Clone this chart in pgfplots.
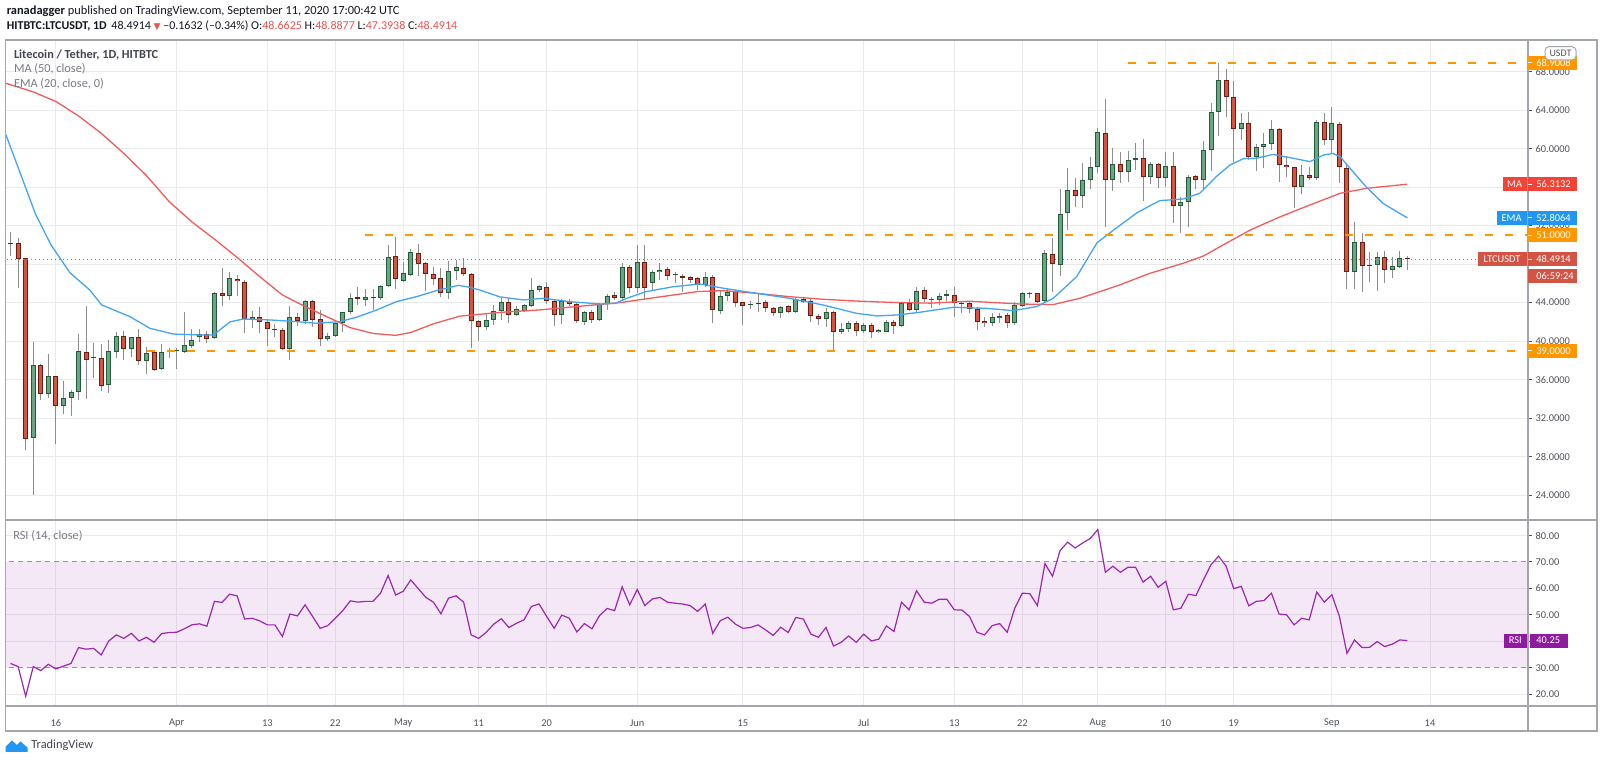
\documentclass[border=0pt]{standalone}
\usepackage{pgfplots}
\pgfplotsset{compat=1.18}
\usepackage{pgfplotstable}
\usepackage{fontspec}
\setmainfont{Carlito}
\newfontfamily\djv{DejaVu Sans}

\definecolor{gridc}{HTML}{E8EAED}
\definecolor{labc}{HTML}{50535B}
\definecolor{framec}{HTML}{A3A6AD}
\definecolor{gfill}{HTML}{6BA583}
\definecolor{gedge}{HTML}{225B38}
\definecolor{rfill}{HTML}{D6533F}
\definecolor{redge}{HTML}{6E1C12}
\definecolor{wickc}{HTML}{8C8C8C}
\definecolor{maC}{HTML}{F25C5A}
\definecolor{emaC}{HTML}{42A5F5}
\definecolor{orC}{HTML}{FF9800}
\definecolor{maBox}{HTML}{F44336}
\definecolor{emaBox}{HTML}{2196F3}
\definecolor{ltcBox}{HTML}{D35445}
\definecolor{rsiC}{HTML}{9C27B0}
\definecolor{rsiBox}{HTML}{8E1A9E}
\definecolor{dashR}{HTML}{A08CAA}
\definecolor{dotC}{HTML}{EF5350}
\definecolor{hdr}{HTML}{131722}
\definecolor{hdrred}{HTML}{EF5350}
\definecolor{legdark}{HTML}{434651}
\definecolor{leggray}{HTML}{787B86}
\definecolor{tvblue}{HTML}{2196F3}

\newcommand{\axf}{\fontsize{5.2}{6}\selectfont}

\pgfplotstableread{
d o h l c
0 50.2 51.3 48.8 50.1
1 50.23 50.68 45.49 48.5
2 48.6 48.6 28.7 29.8
3 29.9 39.95 24.0 37.49
4 37.5 37.6 33.85 34.48
5 34.48 38.67 34.06 36.38
6 36.38 36.4 29.28 33.3
7 33.3 35.83 32.4 34.06
8 34.13 34.96 32.26 34.72
9 34.72 40.78 33.92 38.98
10 38.9 43.65 34.0 38.04
11 38.2 39.84 36.21 38.4
12 38.3 39.67 34.86 35.38
13 35.45 40.12 34.58 38.98
14 38.87 40.92 38.2 40.57
15 40.57 41.06 38.04 39.15
16 39.15 40.47 38.4 40.4
17 40.47 41.26 37.52 37.9
18 37.94 39.43 36.55 38.8
19 38.9 39.08 36.94 37.0
20 37.1 39.67 37.04 38.87
21 38.98 39.25 38.3 38.88
22 38.98 39.25 37.1 39.08
23 38.85 43.07 38.77 39.56
24 39.5 41.26 39.3 40.1
25 40.47 41.26 39.88 40.75
26 40.75 41.06 39.85 40.26
27 40.3 45.14 40.23 45.04
28 45.04 47.64 43.65 44.73
29 44.73 47.15 44.24 46.53
30 46.46 46.87 44.7 46.2
31 46.18 46.35 40.81 42.27
32 42.27 43.13 41.4 42.5
33 42.5 43.5 40.8 41.96
34 41.96 42.2 39.5 41.23
35 41.3 41.8 40.4 41.2
36 41.15 41.4 39.07 39.14
37 39.14 43.7 38.0 42.5
38 42.5 42.9 41.58 42.1
39 42.1 44.27 41.75 44.2
40 44.2 44.27 41.45 42.2
41 42.26 43.24 39.5 40.18
42 40.18 40.8 40.0 40.56
43 40.56 41.92 40.4 41.85
44 41.85 43.07 40.9 43.0
45 43.0 44.97 42.82 44.45
46 44.55 45.6 43.8 44.38
47 44.27 45.4 43.7 44.55
48 44.55 45.4 43.2 44.45
49 44.45 45.8 44.27 45.7
50 45.77 50.0 45.66 48.7
51 48.85 50.8 45.45 46.42
52 46.25 48.19 46.1 47.08
53 46.87 49.58 46.77 49.23
54 49.13 50.1 46.77 48.02
55 48.09 48.19 45.18 46.98
56 46.98 47.67 45.84 46.5
57 46.53 47.57 44.56 44.97
58 44.97 48.36 44.35 47.32
59 47.32 48.43 46.36 47.74
60 47.64 48.6 46.8 46.98
61 46.95 47.05 39.3 42.1
62 42.1 42.2 40.0 41.44
63 41.44 42.9 41.16 42.2
64 42.2 43.76 41.68 43.17
65 43.17 44.52 42.2 44.03
66 44.1 44.45 41.86 42.72
67 42.72 43.69 42.62 43.31
68 43.17 43.86 43.07 43.72
69 43.69 46.53 43.59 45.32
70 45.32 45.84 45.15 45.73
71 45.66 46.11 43.86 44.21
72 44.21 44.28 41.57 42.72
73 42.72 44.35 41.75 44.21
74 44.21 44.35 43.69 43.83
75 43.83 43.93 41.92 42.13
76 42.03 43.17 41.68 43.0
77 43.0 43.24 41.86 42.2
78 42.2 43.93 42.13 43.86
79 43.86 44.9 43.24 44.7
80 44.8 45.15 44.28 44.45
81 44.45 48.09 44.28 47.74
82 47.74 47.91 44.97 45.56
83 45.56 50.0 44.97 48.19
84 48.19 50.0 44.38 45.56
85 46.0 47.4 45.32 47.15
86 47.15 48.09 46.36 47.4
87 47.47 47.67 46.36 46.77
88 46.85 47.22 46.0 46.95
89 46.8 46.98 45.15 46.6
90 46.63 46.77 46.0 46.36
91 46.53 46.7 45.32 45.84
92 45.84 47.15 45.6 46.63
93 46.63 46.87 41.92 43.24
94 43.17 45.32 42.82 44.7
95 44.7 45.4 44.21 45.15
96 45.2 45.32 43.52 44.0
97 44.03 44.1 41.68 43.69
98 43.8 44.17 43.34 43.9
99 43.95 45.0 43.0 43.85
100 44.1 44.28 43.0 43.4
101 43.4 43.59 42.62 42.9
102 42.9 43.69 42.38 43.5
103 43.69 43.76 42.9 43.0
104 43.0 44.45 42.9 44.38
105 44.38 44.6 43.97 44.1
106 44.2 44.38 42.0 42.6
107 42.6 42.8 41.68 42.27
108 42.27 43.45 41.5 43.03
109 43.03 43.17 39.09 41.0
110 40.9 41.93 40.7 41.23
111 41.23 42.13 41.0 41.86
112 41.93 42.07 40.57 41.03
113 41.03 41.86 40.82 41.72
114 41.7 41.86 40.3 40.9
115 40.9 41.27 40.8 41.16
116 41.0 42.2 40.9 42.0
117 42.0 42.2 40.7 41.55
118 41.55 44.03 41.44 43.97
119 43.93 44.38 43.17 43.24
120 43.24 45.6 42.9 45.25
121 45.32 45.6 44.03 44.4
122 44.32 44.62 43.41 44.42
123 44.28 44.97 43.76 44.7
124 44.7 45.32 44.21 44.87
125 44.8 45.66 42.55 43.93
126 43.97 44.17 42.9 43.87
127 43.93 44.1 42.89 43.34
128 43.34 43.52 41.17 42.03
129 42.1 42.48 41.51 41.86
130 41.86 42.9 41.58 42.55
131 42.44 42.9 41.86 42.65
132 42.72 42.9 41.34 41.93
133 41.93 44.1 41.68 43.76
134 43.69 45.15 43.59 44.97
135 44.88 45.15 44.45 44.98
136 44.97 45.04 43.93 44.1
137 44.17 49.47 44.0 49.12
138 49.05 50.75 45.08 48.02
139 47.91 55.8 46.77 53.21
140 53.28 57.96 51.56 55.71
141 55.71 56.99 53.97 55.12
142 55.12 58.54 53.87 56.75
143 56.75 59.17 55.78 58.13
144 58.13 62.18 57.44 61.7
145 61.6 65.13 51.83 56.75
146 56.75 60.04 55.6 58.41
147 58.41 59.62 56.4 57.54
148 57.54 59.79 56.57 58.82
149 58.82 60.55 57.78 59.0
150 59.0 60.97 54.6 57.09
151 57.09 58.6 56.36 58.4
152 58.4 58.54 55.9 56.92
153 56.92 59.7 56.05 58.24
154 58.24 59.7 52.31 54.05
155 54.05 55.02 51.27 54.43
156 54.5 57.26 51.82 57.09
157 57.16 57.26 55.78 56.75
158 56.75 60.83 55.78 59.87
159 59.87 64.71 57.71 63.85
160 63.85 68.87 61.32 67.14
161 67.14 68.28 63.32 65.4
162 65.4 67.07 58.65 62.04
163 62.04 63.67 60.9 62.7
164 62.7 63.84 58.82 59.17
165 59.17 60.48 57.71 60.14
166 60.2 61.59 57.96 60.45
167 60.48 63.0 59.86 62.04
168 62.04 62.11 56.57 58.3
169 58.3 59.23 57.02 58.06
170 58.06 58.13 53.87 55.98
171 56.05 58.3 55.3 57.26
172 57.26 58.13 56.75 56.92
173 56.92 62.97 56.75 62.8
174 62.8 63.67 60.38 60.9
175 60.9 64.29 59.52 62.7
176 62.56 62.8 56.4 58.06
177 57.95 58.54 45.4 47.22
178 47.22 52.42 45.4 50.34
179 50.27 51.27 45.15 47.84
180 47.9 49.31 46.19 47.8
181 47.92 49.31 45.25 48.78
182 48.78 49.37 46.02 47.4
183 47.4 48.78 46.53 47.8
184 47.74 49.4 47.6 48.6
185 48.6625 48.8877 47.3938 48.4914
}\candles

\pgfplotstableread{
d v
-0.65 66.8
3 65.9
6 64.9
9 63.4
12 61.6
15 59.5
18 57.2
21 54.5
24 52.4
27 50.6
30 48.7
33 46.7
36 44.8
39 43.6
42 42.5
45 41.4
48 40.8
51 40.6
53 40.9
56 41.8
59.5 42.6
65 43.0
70 43.24
75 43.6
80.7 44.0
86 44.6
91 45.15
94.4 45.25
98.8 44.97
103.2 44.62
107.6 44.35
112 44.17
116.5 44.03
121.8 43.95
127 44.15
133.7 43.86
138.1 43.8
141.6 44.45
144.3 45.15
146.9 45.84
150.9 47.05
155.3 48.09
158 48.85
160.6 50.0
164.2 51.55
167.7 52.77
172.1 54.15
176.1 55.36
179.6 55.88
185 56.31
}\maline

\pgfplotstableread{
d v
-0.65 61.5
1.3 57.4
3.3 53.2
5.35 50.0
7.87 47.1
10.5 45.3
12.06 43.76
15.8 42.55
18.46 41.33
21.55 40.74
25.1 40.64
26.85 40.64
29.06 42.0
30.8 42.3
34.4 42.2
37.9 42.03
40.5 41.86
43.6 42.03
45.8 42.48
48.5 43.24
51.1 44.1
53.8 44.63
56.4 45.25
59.3 45.8
60.8 45.6
62.2 45.3
64.8 44.6
67.9 44.28
70.6 44.45
74.1 44.1
78.1 43.86
80.1 43.93
81.6 44.45
84.2 45.15
87.8 45.66
91.3 45.94
94.4 45.5
98.8 44.97
103.2 44.45
107.6 43.76
112 42.9
114.7 42.62
117.4 42.72
120.4 43.0
124.9 43.52
129.3 43.41
132.8 43.17
135.9 43.59
138.1 44.45
141.2 46.7
143.9 50.23
146.1 51.55
149.2 53.35
152.2 54.6
155.3 54.77
157.5 55.36
159.7 57.1
161.5 58.3
163.3 58.96
165 59.0
167.2 59.4
169.9 59.0
172.1 58.65
173.9 59.34
175.1 59.5
176.1 59.17
177.4 57.96
179.6 55.98
181.8 54.3
184 53.27
185 52.81
}\emaline

\pgfplotstableread{
d v
0 31.6
1 30.4
2 19.2
3 30.4
4 28.9
5 31.3
6 29.5
7 30.6
8 31.6
9 37.6
10 37.0
11 37.3
12 34.8
13 40.1
14 42.4
15 41.1
16 43.0
17 40.1
18 41.5
19 39.6
20 42.9
21 43.3
22 43.4
23 44.7
24 46.2
25 46.6
26 45.7
27 55.1
28 54.7
29 57.8
30 57.2
31 48.4
32 48.7
33 47.7
34 46.2
35 46.2
36 41.8
37 50.3
38 49.6
39 53.8
40 49.4
41 44.9
42 45.9
43 48.7
44 51.6
45 55.3
46 54.8
47 55.1
48 55.1
49 58.2
50 64.9
51 57.5
52 58.9
53 63.2
54 59.9
55 56.6
56 54.8
57 50.4
58 56.3
59 57.2
60 54.8
61 42.4
62 41.1
63 43.4
64 46.5
65 48.5
66 45.2
67 46.8
68 48.1
69 53.2
70 54.1
71 49.4
72 44.9
73 49.9
74 48.7
75 43.5
76 46.7
77 44.7
78 49.7
79 52.4
80 51.6
81 60.6
82 53.8
83 59.6
84 53.5
85 56.0
86 56.6
87 54.8
88 54.4
89 54.1
90 53.5
91 51.3
92 54.1
93 43.0
94 47.8
95 49.1
96 46.5
97 44.9
98 45.2
99 46.2
100 44.3
101 42.2
102 45.3
103 43.3
104 49.0
105 48.4
106 42.7
107 41.5
108 45.2
109 38.2
110 39.6
111 42.0
112 39.6
113 42.7
114 40.1
115 40.8
116 45.8
117 43.7
118 54.8
119 51.9
120 59.1
121 54.8
122 54.4
123 55.9
124 55.9
125 51.9
126 51.8
127 49.4
128 43.4
129 42.4
130 45.9
131 46.7
132 43.4
133 52.5
134 58.2
135 58.0
136 53.5
137 69.4
138 64.6
139 74.3
140 77.5
141 75.3
142 77.2
143 78.9
144 82.3
145 66.1
146 68.4
147 66.1
148 68.0
149 68.0
150 62.4
151 64.6
152 60.4
153 62.7
154 51.9
155 52.5
156 57.8
157 57.3
158 63.3
159 69.0
160 72.2
161 68.4
162 59.9
163 60.8
164 53.4
165 55.1
166 55.4
167 58.2
168 50.3
169 50.0
170 46.2
171 48.7
172 48.1
173 58.6
174 54.8
175 57.6
176 49.4
177 35.4
178 40.5
179 37.6
180 37.7
181 39.9
182 38.0
183 38.9
184 40.5
185 40.25
}\rsiline

\pgfplotsset{
  tvaxis/.style={
    scale only axis, anchor=south west,
    width=761.15pt,
    xmin=-0.649, xmax=200.98,
    axis line style={draw=none},
    xtick={6,22,34,43,52,62,71,83,97,113,125,134,144,153,162,175,188},
    ytick pos=right,
    tick align=outside,
    major tick length=2pt,
    xtick style={draw=none},
    ytick style={draw=labc, line width=0.5pt},
    grid=major,
    major grid style={draw=gridc, line width=0.5pt},
    yticklabel style={font=\axf, text=labc, anchor=west, inner sep=0pt, xshift=1.6pt},
  }
}

\begin{document}
\begin{tikzpicture}[x=0.5pt,y=0.5pt]
\useasboundingbox (0,0) rectangle (1600,763);
\fill[white] (0,0) rectangle (1600,763);

% ---------------- price panel ----------------
\begin{axis}[tvaxis,
  at={(2.85pt,121.5pt)}, height=240pt,
  ymin=21.42, ymax=71.29,
  ytick={24,28,32,36,40,44,48,52,56,60,64,68},
  yticklabels={24.0000,28.0000,32.0000,36.0000,40.0000,44.0000,{},52.0000,{},60.0000,64.0000,68.0000},
  xticklabel={\relax},
]
% wicks
\addplot[mark=none, draw=none, forget plot,
  error bars/.cd, y dir=minus, y explicit, error mark=none,
  error bar style={draw=wickc, line width=0.5pt}]
  table[x=d, y=h, y error minus expr=\thisrow{h}-\thisrow{l}] {\candles};
% green bodies
\addplot[mark=none, draw=none, forget plot,
  restrict expr to domain={\thisrow{c}-\thisrow{o}}{0:1000},
  error bars/.cd, y dir=minus, y explicit, error mark=none,
  error bar style={draw=gedge, line width=2.5pt}]
  table[x=d, y=c, y error minus expr={max(\thisrow{c}-\thisrow{o},0.104)}] {\candles};
\addplot[mark=none, draw=none, forget plot,
  restrict expr to domain={\thisrow{c}-\thisrow{o}}{0:1000},
  error bars/.cd, y dir=minus, y explicit, error mark=none,
  error bar style={draw=gfill, line width=1.5pt}]
  table[x=d, y expr=\thisrow{c}-0.104, y error minus expr={max(\thisrow{c}-\thisrow{o}-0.208,0)}] {\candles};
% red bodies
\addplot[mark=none, draw=none, forget plot,
  restrict expr to domain={\thisrow{c}-\thisrow{o}}{-1000:0},
  error bars/.cd, y dir=minus, y explicit, error mark=none,
  error bar style={draw=redge, line width=2.5pt}]
  table[x=d, y=o, y error minus expr={max(\thisrow{o}-\thisrow{c},0.104)}] {\candles};
\addplot[mark=none, draw=none, forget plot,
  restrict expr to domain={\thisrow{c}-\thisrow{o}}{-1000:0},
  error bars/.cd, y dir=minus, y explicit, error mark=none,
  error bar style={draw=rfill, line width=1.5pt}]
  table[x=d, y expr=\thisrow{o}-0.104, y error minus expr={max(\thisrow{o}-\thisrow{c}-0.208,0)}] {\candles};
% moving averages
\addplot[maC, line width=0.65pt, mark=none] table[x=d, y=v] {\maline};
\addplot[emaC, line width=0.65pt, mark=none] table[x=d, y=v] {\emaline};
% current price line
\addplot[dotC, line width=0.5pt, dash pattern=on 0.5pt off 1.5pt, mark=none] coordinates {(-1,48.4914) (202,48.4914)};
% horizontal levels
\addplot[orC, line width=1pt, dash pattern=on 4pt off 6pt, mark=none] coordinates {(148,68.9008) (202,68.9008)};
\addplot[orC, line width=1pt, dash pattern=on 4pt off 6pt, mark=none] coordinates {(46.9,51) (202,51)};
\addplot[orC, line width=1pt, dash pattern=on 4pt off 6pt, mark=none] coordinates {(18,39) (202,39)};
\end{axis}

% ---------------- RSI panel ----------------
\begin{axis}[tvaxis,
  at={(2.85pt,28.5pt)}, height=93pt,
  ymin=15.5, ymax=85.9,
  ytick={20,40,50,60,80},
  yticklabels={20.00,{},50.00,60.00,80.00},
  extra y ticks={30,70},
  extra y tick labels={30.00,70.00},
  extra y tick style={grid=none},
  xticklabels={16,Apr,13,22,May,11,20,Jun,15,Jul,13,22,Aug,10,19,Sep,14},
  xticklabel style={font=\axf, text=labc, anchor=center, yshift=-6.5pt},
]
\addplot[fill=rsiC, fill opacity=0.1, draw=none, forget plot] coordinates {(-5,30) (210,30) (210,70) (-5,70) (-5,30)};
\addplot[dashR, line width=0.5pt, dash pattern=on 2.5pt off 2pt, mark=none] coordinates {(-5,70) (210,70)};
\addplot[dashR, line width=0.5pt, dash pattern=on 2.5pt off 2pt, mark=none] coordinates {(-5,30) (210,30)};
\addplot[rsiC, line width=0.6pt, mark=none] table[x=d, y=v] {\rsiline};
\end{axis}

% ---------------- frame ----------------
\draw[framec, line width=0.75pt] (5.7,32) rectangle (1597,723);
\draw[framec, line width=0.9pt] (5.7,243) -- (1597,243);
\draw[framec, line width=0.75pt] (5.7,57) -- (1597,57);
\draw[framec, line width=0.75pt] (1528,32) -- (1528,723);

% ---------------- header ----------------
\node[anchor=base west, inner sep=0pt, font=\fontsize{6.2}{7}\selectfont, text=hdr] at (6.4,748.3)
  {\textbf{ranadagger} published on TradingView.com, September 11, 2020 17:00:42 UTC};
\node[anchor=base west, inner sep=0pt, font=\fontsize{6}{7}\selectfont, text=hdr] at (6.4,733.7)
  {\textbf{HITBTC:LTCUSDT, 1D}\ \,48.4914 {\djv\fontsize{4.5}{5}\selectfont\textcolor{hdrred}{▼}} –0.1632 (–0.34\%) O:\textcolor{hdrred}{48.6625} H:\textcolor{hdrred}{48.8877} L:\textcolor{hdrred}{47.3938} C:\textcolor{hdrred}{48.4914}};

% ---------------- legends ----------------
\node[anchor=base west, inner sep=0pt, font=\fontsize{6.15}{7}\selectfont\bfseries, text=legdark] at (13.6,704.7) {Litecoin / Tether, 1D, HITBTC};
\node[anchor=base west, inner sep=0pt, font=\fontsize{6.15}{7}\selectfont, text=leggray] at (13.6,690) {MA (50, close)};
\node[anchor=base west, inner sep=0pt, font=\fontsize{6.15}{7}\selectfont, text=leggray] at (13.6,675) {EMA (20, close, 0)};
\node[anchor=base west, inner sep=0pt, font=\fontsize{6.15}{7}\selectfont, text=leggray] at (12.9,223.7) {RSI (14, close)};

% ---------------- right labels ----------------
\newcommand{\pbox}[3]{%
  \fill[#1] (1528,#2-7) rectangle (1577,#2+7);
  \draw[white, line width=0.5pt] (1528,#2) -- (1532,#2);
  \node[anchor=west, inner sep=0pt, text=white, font=\axf] at (1536,#2) {#3};}
\newcommand{\tbox}[4]{%
  \fill[#1] (#3,#2-7) rectangle (1526.5,#2+7);
  \node[inner sep=0pt, text=white, font=\axf] at ({(#3+1526.5)/2},#2) {#4};}

\pbox{orC}{700.0}{68.9008}
\pbox{maBox}{578.8}{56.3132}\tbox{maBox}{578.8}{1502.7}{MA}
\pbox{emaBox}{545.1}{52.8064}\tbox{emaBox}{545.1}{1496.7}{EMA}
\pbox{orC}{527.7}{51.0000}
\pbox{ltcBox}{503.5}{48.4914}\tbox{ltcBox}{503.5}{1477.7}{LTCUSDT}
\fill[ltcBox] (1528,480.3) rectangle (1577,494.3);
\node[anchor=west, inner sep=0pt, text=white, font=\axf] at (1536,487.3) {06:59:24};
\pbox{orC}{412.2}{39.0000}

\fill[rsiBox] (1530,115.4) rectangle (1568,129.4);
\node[anchor=west, inner sep=0pt, text=white, font=\axf] at (1536,122.4) {40.25};
\tbox{rsiBox}{122.4}{1504}{RSI}

\draw[framec, fill=white, rounded corners=2pt, line width=0.5pt] (1545,703) rectangle (1576,716.3);
\node[inner sep=0pt, text=labc, font=\fontsize{5}{6}\selectfont] at (1560.5,709.6) {USDT};

% ---------------- footer ----------------
\fill[tvblue] (5.5,11) -- (5.5,16) -- (12,22.5) -- (17,18) -- (20.5,21.5) -- (27.5,15.5) -- (27.5,11) -- cycle;
\node[anchor=west, inner sep=0pt, text=hdr!80, font=\fontsize{6.2}{7}\selectfont] at (31,17.3) {TradingView};
\end{tikzpicture}
\end{document}
